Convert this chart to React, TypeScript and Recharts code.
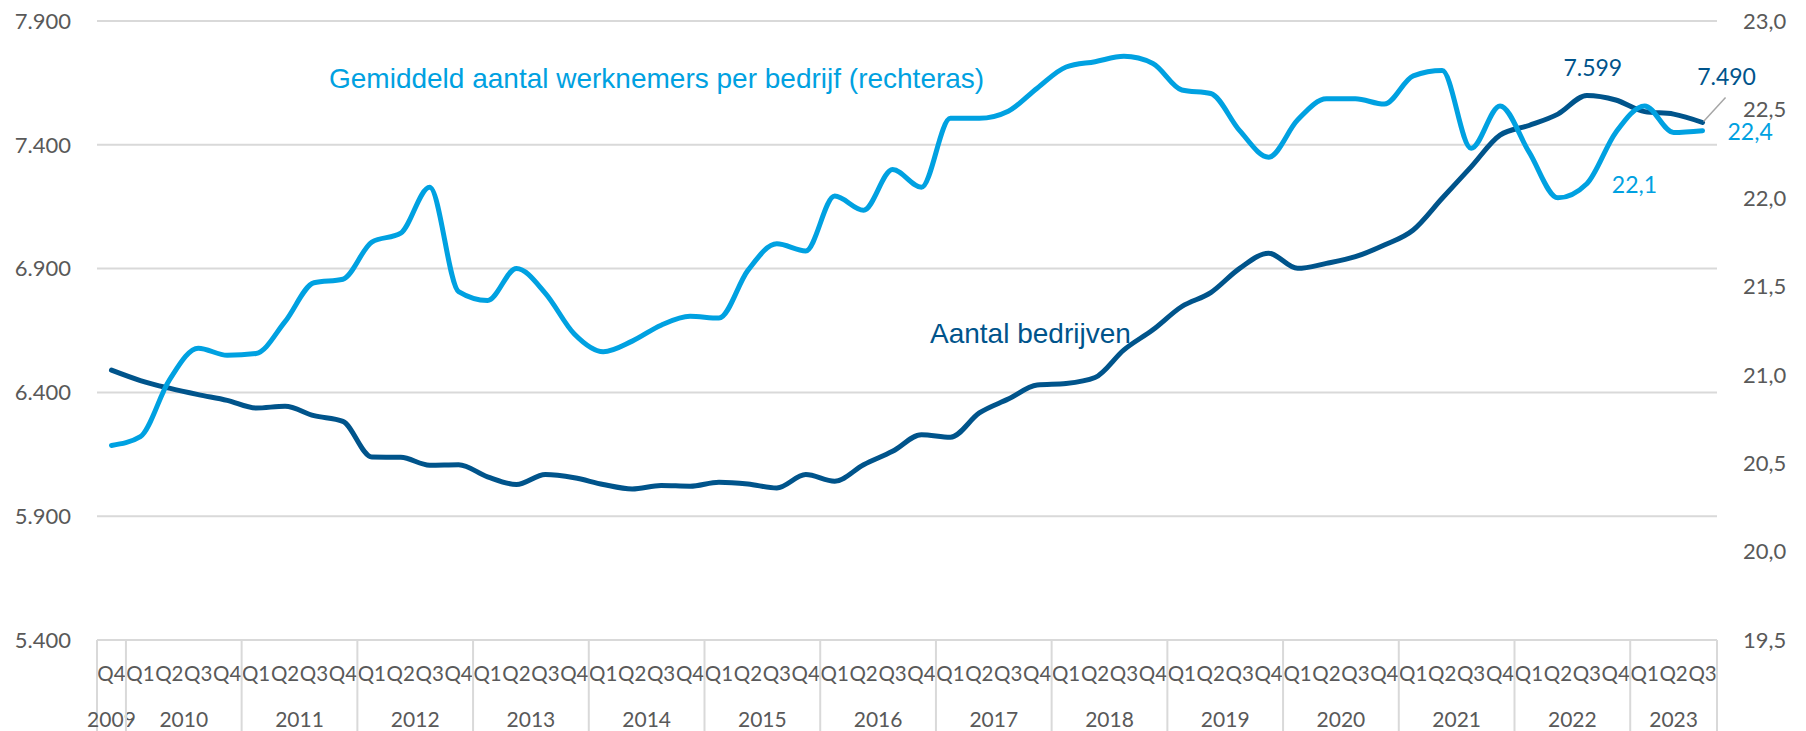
import React from "react";
import { LineChart, Line, XAxis, YAxis, CartesianGrid, LabelList } from "recharts";

// ---- data ----
const quarterLabels = [
  "Q4",
  "Q1", "Q2", "Q3", "Q4", "Q1", "Q2", "Q3", "Q4", "Q1", "Q2", "Q3", "Q4", "Q1", "Q2", "Q3", "Q4",
  "Q1", "Q2", "Q3", "Q4", "Q1", "Q2", "Q3", "Q4", "Q1", "Q2", "Q3", "Q4", "Q1", "Q2", "Q3", "Q4",
  "Q1", "Q2", "Q3", "Q4", "Q1", "Q2", "Q3", "Q4", "Q1", "Q2", "Q3", "Q4", "Q1", "Q2", "Q3", "Q4",
  "Q1", "Q2", "Q3", "Q4", "Q1", "Q2", "Q3",
];
const yearOfPoint = [
  "2009",
  "2010", "2010", "2010", "2010", "2011", "2011", "2011", "2011",
  "2012", "2012", "2012", "2012", "2013", "2013", "2013", "2013",
  "2014", "2014", "2014", "2014", "2015", "2015", "2015", "2015",
  "2016", "2016", "2016", "2016", "2017", "2017", "2017", "2017",
  "2018", "2018", "2018", "2018", "2019", "2019", "2019", "2019",
  "2020", "2020", "2020", "2020", "2021", "2021", "2021", "2021",
  "2022", "2022", "2022", "2022", "2023", "2023", "2023",
];
// Aantal bedrijven (left axis)
const aantalBedrijven = [
  6490, 6448, 6417, 6391, 6368, 6337, 6344, 6306, 6283, 6139, 6138, 6106, 6108, 6059, 6028, 6068,
  6055, 6028, 6010, 6024, 6021, 6037, 6030, 6014, 6068, 6041, 6108, 6162, 6229, 6219, 6317, 6373,
  6430, 6436, 6460, 6572, 6653, 6747, 6803, 6901, 6962, 6901, 6921, 6948, 6995, 7056, 7184, 7311,
  7439, 7478, 7524, 7599, 7581, 7534, 7524, 7490,
];
// Gemiddeld aantal werknemers per bedrijf (right axis)
const werknemersPerBedrijf = [
  20.6, 20.65, 20.97, 21.15, 21.11, 21.12, 21.3, 21.52, 21.54, 21.75, 21.8, 22.06, 21.47, 21.42, 21.6, 21.46,
  21.23, 21.13, 21.19, 21.28, 21.33, 21.32, 21.59, 21.74, 21.7, 22.01, 21.93, 22.16, 22.06, 22.45, 22.45, 22.49,
  22.62, 22.74, 22.77, 22.8, 22.76, 22.61, 22.59, 22.38, 22.23, 22.44, 22.56, 22.56, 22.53, 22.69, 22.72, 22.28,
  22.52, 22.26, 22.0, 22.08, 22.37, 22.52, 22.37, 22.38,
];
const leftTicks = [5400, 5900, 6400, 6900, 7400, 7900];
const rightTicks = [19.5, 20.0, 20.5, 21.0, 21.5, 22.0, 22.5, 23.0];
const darkLabelIdx = [51, 55];
const lightLabelIdx = [51, 55];

const data = quarterLabels.map((q, i) => ({
  period: yearOfPoint[i] + " " + q,
  bedrijven: aantalBedrijven[i],
  werknemers: werknemersPerBedrijf[i],
}));

// ---- layout / style ----
const W = 1806;
const H = 731;
const TOP = 21;
const LEFT_W = 97;
const RIGHT_W = 89;
const XAXIS_H = 91;
const BAND = (W - LEFT_W - RIGHT_W) / quarterLabels.length;

const DARK = "#00548B";
const LIGHT = "#00A1E1";
const GRID = "#D9D9D9";
const AXIS_TEXT = "#595959";
const NUM_FONT = "Lato, 'Noto Sans', sans-serif";
const ANNO_FONT = "'Liberation Sans', Arial, sans-serif";

const fmtThousands = (n: number) => String(Math.round(n)).replace(/\B(?=(\d{3})+(?!\d))/g, ".");
const fmtDec = (n: number) => n.toFixed(1).replace(".", ",");

const QuarterTick = (props: any) => {
  const { x, y, index } = props;
  const yr = yearOfPoint[index];
  const first = index === 0 || yearOfPoint[index - 1] !== yr;
  const last = index === yearOfPoint.length - 1;
  const groupCount = yearOfPoint.filter((v) => v === yr).length;
  return (
    <g>
      <text x={x} y={y + 33} textAnchor="middle" dominantBaseline="central" fontFamily={NUM_FONT} fontSize={20.5} fill={AXIS_TEXT}>
        {quarterLabels[index]}
      </text>
      {first && (
        <line x1={x - BAND / 2} x2={x - BAND / 2} y1={y} y2={y + XAXIS_H} stroke={GRID} strokeWidth={2} />
      )}
      {first && (
        <text x={x + ((groupCount - 1) * BAND) / 2} y={y + 78} textAnchor="middle" dominantBaseline="central" fontFamily={NUM_FONT} fontSize={21} fill={AXIS_TEXT}>
          {yr}
        </text>
      )}
      {last && <line x1={x + BAND / 2} x2={x + BAND / 2} y1={y} y2={y + XAXIS_H} stroke={GRID} strokeWidth={2} />}
    </g>
  );
};

const DarkLabel = (p: any) => {
  const { x, y, value, index } = p;
  if (!darkLabelIdx.includes(index)) return null;
  if (index === darkLabelIdx[0]) {
    return (
      <text x={x + 6} y={y - 20} textAnchor="middle" fontFamily={NUM_FONT} fontSize={23} fill={DARK}>
        {fmtThousands(value)}
      </text>
    );
  }
  return (
    <g>
      <line x1={x + 1} y1={y - 1} x2={x + 23} y2={y - 25} stroke="#A6A6A6" strokeWidth={1.5} />
      <text x={x + 24} y={y - 38} textAnchor="middle" fontFamily={NUM_FONT} fontSize={23} fill={DARK}>
        {fmtThousands(value)}
      </text>
    </g>
  );
};

const LightLabel = (p: any) => {
  const { x, y, value, index } = p;
  if (!lightLabelIdx.includes(index)) return null;
  return (
    <text x={x + 25} y={y + 9} textAnchor="start" fontFamily={NUM_FONT} fontSize={23} fill={LIGHT}>
      {fmtDec(value)}
    </text>
  );
};

export default function App() {
  return (
    <div style={{ position: "absolute", left: 0, top: 0, width: W, height: H, background: "#fff" }}>
      <LineChart width={W} height={H} data={data} margin={{ top: TOP, right: 0, bottom: 0, left: 0 }}>
        <CartesianGrid vertical={false} stroke={GRID} strokeWidth={2} />
        <XAxis
          dataKey="period"
          interval={0}
          height={XAXIS_H}
          padding={{ left: BAND / 2, right: BAND / 2 }}
          tickSize={0}
          tickMargin={0}
          tickLine={false}
          axisLine={{ stroke: GRID, strokeWidth: 2 }}
          tick={<QuarterTick />}
        />
        <YAxis
          yAxisId={0}
          orientation="left"
          width={LEFT_W}
          domain={[5400, 7900]}
          ticks={leftTicks}
          interval={0}
          axisLine={false}
          tickLine={false}
          tickSize={0}
          tickMargin={26}
          tickFormatter={fmtThousands}
          tick={{ fontFamily: NUM_FONT, fontSize: 22, fill: AXIS_TEXT }}
        />
        <YAxis
          yAxisId="right"
          orientation="right"
          width={RIGHT_W}
          domain={[19.5, 23]}
          ticks={rightTicks}
          interval={0}
          axisLine={false}
          tickLine={false}
          tickSize={0}
          tickMargin={26}
          tickFormatter={fmtDec}
          tick={{ fontFamily: NUM_FONT, fontSize: 22, fill: AXIS_TEXT }}
        />
        <Line
          yAxisId={0}
          dataKey="bedrijven"
          type="monotone"
          stroke={DARK}
          strokeWidth={5}
          strokeLinecap="round"
          dot={false}
          activeDot={false}
          isAnimationActive={false}
        >
          <LabelList dataKey="bedrijven" content={<DarkLabel />} />
        </Line>
        <Line
          yAxisId="right"
          dataKey="werknemers"
          type="monotone"
          stroke={LIGHT}
          strokeWidth={5}
          strokeLinecap="round"
          dot={false}
          activeDot={false}
          isAnimationActive={false}
        >
          <LabelList dataKey="werknemers" content={<LightLabel />} />
        </Line>
      </LineChart>
      <svg width={W} height={H} style={{ position: "absolute", left: 0, top: 0, pointerEvents: "none" }}>
        <text x={329} y={88} fontFamily={ANNO_FONT} fontSize={28} fill={LIGHT}>
          Gemiddeld aantal werknemers per bedrijf (rechteras)
        </text>
        <text x={930} y={343} fontFamily={ANNO_FONT} fontSize={28} fill={DARK}>
          Aantal bedrijven
        </text>
      </svg>
    </div>
  );
}
